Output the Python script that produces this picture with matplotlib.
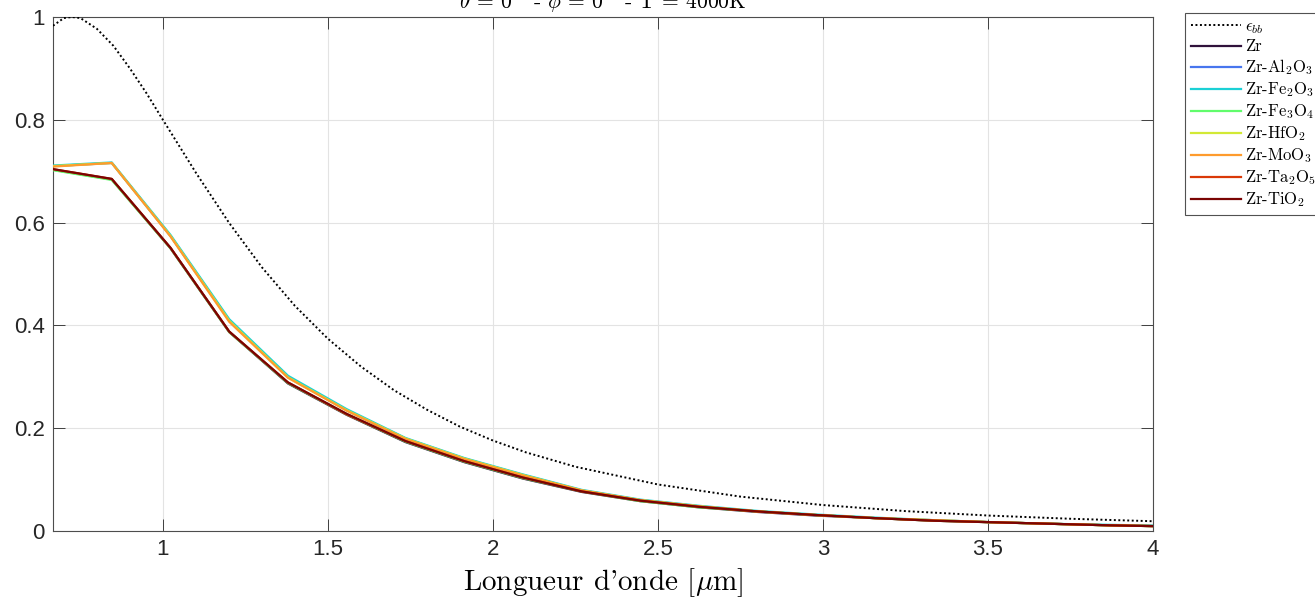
import matplotlib
matplotlib.use("Agg")
import matplotlib.pyplot as plt
import numpy as np

# ---------------- data ----------------
wl_bb = [0.667, 0.70, 0.7245, 0.75, 0.80, 0.85, 0.90, 0.95, 1.00, 1.10, 1.20, 1.30,
         1.40, 1.50, 1.60, 1.70, 1.80, 1.90, 2.00, 2.10, 2.25, 2.50, 2.75, 3.00,
         3.25, 3.50, 3.75, 4.00]
eps_bb = [0.983, 0.998, 1.000, 0.998, 0.977, 0.944, 0.900, 0.852, 0.800, 0.697, 0.600, 0.513,
          0.438, 0.374, 0.320, 0.274, 0.236, 0.203, 0.176, 0.153, 0.125, 0.0905, 0.0669, 0.0505,
          0.0387, 0.0301, 0.0238, 0.0190]

wl = [0.667, 0.845, 1.023, 1.201, 1.379, 1.557, 1.735, 1.913, 2.091, 2.269,
      2.447, 2.625, 2.803, 2.981, 3.159, 3.337, 3.515, 3.693, 3.871, 4.049]

zr       = [0.703, 0.684, 0.550, 0.387, 0.287, 0.226, 0.173, 0.134, 0.102, 0.076,
            0.058, 0.046, 0.037, 0.030, 0.025, 0.020, 0.017, 0.014, 0.011, 0.009]
zr_al2o3 = [0.710, 0.716, 0.574, 0.410, 0.300, 0.235, 0.180, 0.141, 0.109, 0.079,
            0.060, 0.048, 0.038, 0.031, 0.025, 0.021, 0.017, 0.014, 0.011, 0.009]
zr_fe2o3 = [0.711, 0.717, 0.576, 0.412, 0.302, 0.237, 0.181, 0.142, 0.110, 0.080,
            0.061, 0.049, 0.039, 0.032, 0.026, 0.021, 0.017, 0.014, 0.012, 0.010]
zr_fe3o4 = [0.702, 0.683, 0.550, 0.387, 0.288, 0.227, 0.174, 0.135, 0.103, 0.077,
            0.058, 0.046, 0.038, 0.031, 0.025, 0.020, 0.017, 0.014, 0.011, 0.009]
zr_hfo2  = [0.710, 0.716, 0.574, 0.409, 0.299, 0.235, 0.180, 0.141, 0.109, 0.079,
            0.060, 0.048, 0.038, 0.031, 0.025, 0.021, 0.017, 0.014, 0.011, 0.009]
zr_moo3  = [0.709, 0.716, 0.573, 0.407, 0.298, 0.234, 0.179, 0.140, 0.108, 0.079,
            0.060, 0.048, 0.038, 0.031, 0.025, 0.021, 0.017, 0.014, 0.011, 0.009]
zr_ta2o5 = [0.704, 0.685, 0.551, 0.388, 0.289, 0.227, 0.175, 0.136, 0.104, 0.077,
            0.059, 0.047, 0.038, 0.031, 0.025, 0.020, 0.017, 0.014, 0.011, 0.009]
zr_tio2  = [0.704, 0.685, 0.551, 0.388, 0.289, 0.228, 0.175, 0.136, 0.104, 0.077,
            0.059, 0.047, 0.038, 0.031, 0.025, 0.020, 0.017, 0.014, 0.011, 0.009]

series = [zr, zr_al2o3, zr_fe2o3, zr_fe3o4, zr_hfo2, zr_moo3, zr_ta2o5, zr_tio2]
labels = ["Zr", r"Zr-Al$_2$O$_3$", r"Zr-Fe$_2$O$_3$", r"Zr-Fe$_3$O$_4$",
          r"Zr-HfO$_2$", r"Zr-MoO$_3$", r"Zr-Ta$_2$O$_5$", r"Zr-TiO$_2$"]

xticks = [1, 1.5, 2, 2.5, 3, 3.5, 4]
xtick_labels = ["1", "1.5", "2", "2.5", "3", "3.5", "4"]
yticks = [0, 0.2, 0.4, 0.6, 0.8, 1]
ytick_labels = ["0", "0.2", "0.4", "0.6", "0.8", "1"]

# ---------------- style ----------------
plt.rcParams['mathtext.fontset'] = 'cm'
plt.rcParams['axes.unicode_minus'] = False
tick_font = 'Liberation Sans'
serif = 'cmr10'
dark = '#262626'

W, H = 1315, 602
fig = plt.figure(figsize=(W / 100, H / 100), dpi=100)
ax = fig.add_axes([53 / W, 1 - 531 / H, (1153 - 53) / W, (531 - 17) / H])

colors = [plt.get_cmap('turbo')(v) for v in np.linspace(0.0, 1.0, 8)]
colors[0] = '#30123b'

ax.plot(wl_bb, eps_bb, color='black', lw=1.4, linestyle=(0, (1, 1.3)),
        label=r"$\epsilon_{bb}$", zorder=3)
for vals, lab, c in zip(series, labels, colors):
    ax.plot(wl, vals, color=c, lw=1.6, label=lab, zorder=4)

ax.set_xlim(0.667, 4)
ax.set_ylim(0, 1)
ax.set_xticks(xticks)
ax.set_xticklabels(xtick_labels)
ax.set_yticks(yticks)
ax.set_yticklabels(ytick_labels)
for lbl in ax.get_xticklabels() + ax.get_yticklabels():
    lbl.set_fontfamily(tick_font)
    lbl.set_fontsize(16)
    lbl.set_color(dark)

ax.tick_params(direction='in', length=8.5, width=0.6, colors=dark,
               top=True, right=True, pad=6)
ax.grid(True, color='#e3e3e3', lw=0.8)
ax.set_axisbelow(True)
for sp in ax.spines.values():
    sp.set_color('#4d4d4d')
    sp.set_linewidth(0.8)

ax.set_xlabel(r"Longueur d'onde [$\mu$m]", fontfamily=serif, fontsize=21,
              color='black', labelpad=4)

fig.text(603 / W, 1 - 8.5 / H, r"$\theta$ = 0$^\circ$ - $\phi$ = 0$^\circ$ - T = 4000K",
         ha='center', va='baseline', fontfamily=serif, fontsize=15.5, color='black')

leg = ax.legend(loc='upper left', bbox_to_anchor=(1185 / W, 1 - 13 / H),
                bbox_transform=fig.transFigure, borderaxespad=0,
                prop={'family': serif, 'size': 12}, handlelength=3.0,
                handletextpad=0.25, labelspacing=0.19, borderpad=0.35,
                fancybox=False, frameon=True)
leg.get_frame().set_edgecolor('#262626')
leg.get_frame().set_linewidth(0.8)

fig.savefig("out.png", dpi=100)
